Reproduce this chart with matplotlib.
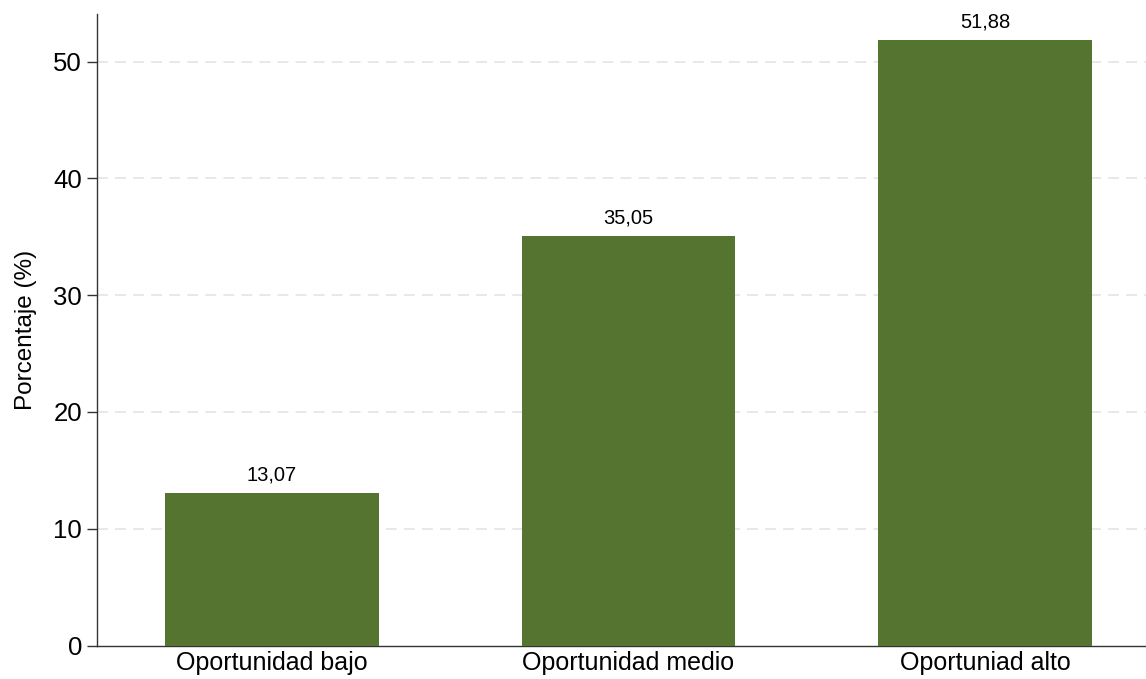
import matplotlib
matplotlib.use('agg')
import matplotlib.pyplot as plt

categories = ["Oportunidad bajo", "Oportunidad medio", "Oportuniad alto"]
values = [13.07, 35.05, 51.88]
yticks = [0, 10, 20, 30, 40, 50]

plt.rcParams['font.family'] = ['Liberation Sans', 'DejaVu Sans']

fig = plt.figure(figsize=(11.46, 6.79), dpi=100)
ax = fig.add_axes([0.085, 0.0493, 0.915, 0.9301])

pos = list(range(1, len(values) + 1))
bars = ax.bar(pos, values, width=0.6, color='#55742f', zorder=3)

for b, v in zip(bars, values):
    ax.annotate(f"{v:.2f}".replace('.', ','), (b.get_x() + b.get_width() / 2, v),
                xytext=(0, 6), textcoords='offset points',
                ha='center', va='bottom', fontsize=14.5)

ax.set_xlim(0.51, 3.452)
ax.set_ylim(0, 54.07)
ax.set_xticks(pos)
ax.set_xticklabels(categories, fontsize=18)
ax.set_yticks(yticks)
ax.set_yticklabels([str(t) for t in yticks], fontsize=18.5)
ax.tick_params(axis='x', length=0, pad=4)
ax.tick_params(axis='y', length=7, width=1, color='#333333', pad=4)
ax.set_ylabel("Porcentaje (%)", fontsize=17.5)
ax.yaxis.set_label_coords(-0.058, 0.5)

for t in yticks[1:]:
    ax.axhline(t, color='#e6e6e6', lw=1.3, ls=(0, (6, 4)), zorder=1)

for s in ['top', 'right']:
    ax.spines[s].set_visible(False)
for s in ['left', 'bottom']:
    ax.spines[s].set_color('#333333')
    ax.spines[s].set_linewidth(1)

fig.savefig('out.png', dpi=100)
